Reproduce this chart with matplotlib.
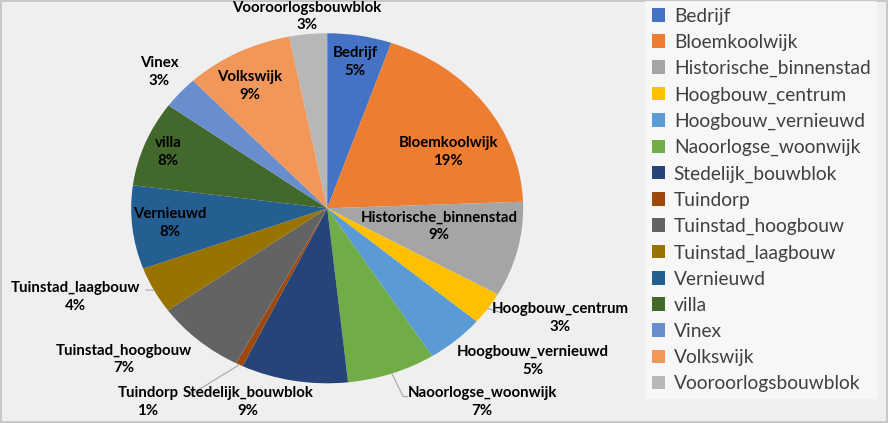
import matplotlib
matplotlib.use("Agg")
import matplotlib.pyplot as plt
import numpy as np

plt.rcParams['font.family'] = ['Lato', 'DejaVu Sans']

# shares of each neighbourhood type (percent)
categories = ["Bedrijf", "Bloemkoolwijk", "Historische_binnenstad", "Hoogbouw_centrum",
              "Hoogbouw_vernieuwd", "Naoorlogse_woonwijk", "Stedelijk_bouwblok", "Tuindorp",
              "Tuinstad_hoogbouw", "Tuinstad_laagbouw", "Vernieuwd", "villa", "Vinex",
              "Volkswijk", "Vooroorlogsbouwblok"]
shares = [5.3, 19.1, 8.8, 3.0, 4.8, 7.3, 8.8, 0.6, 7.4, 4.3, 7.7, 7.9, 3.0, 8.9, 3.1]

colors = ["#4472C4", "#ED7D31", "#A5A5A5", "#FFC000", "#5B9BD5", "#70AD47", "#264478",
          "#9E480E", "#636363", "#997300", "#255E91", "#43682B", "#698ED0", "#F1975A",
          "#B7B7B7"]

# where Excel put each data label (centre of the two-line block, pie radius = 1)
label_pos = {
    "Bedrijf": (0.142, 0.836),
    "Bloemkoolwijk": (0.617, 0.322),
    "Historische_binnenstad": (0.570, -0.101),
    "Hoogbouw_centrum": (1.188, -0.627),
    "Hoogbouw_vernieuwd": (1.050, -0.872),
    "Naoorlogse_woonwijk": (0.790, -1.107),
    "Stedelijk_bouwblok": (-0.404, -1.107),
    "Tuindorp": (-0.914, -1.107),
    "Tuinstad_hoogbouw": (-1.036, -0.866),
    "Tuinstad_laagbouw": (-1.282, -0.507),
    "Vernieuwd": (-0.802, -0.084),
    "villa": (-0.812, 0.322),
    "Vinex": (-0.858, 0.779),
    "Volkswijk": (-0.394, 0.699),
    "Vooroorlogsbouwblok": (-0.104, 1.095),
}
# leader line end points for labels that sit outside the pie
leader_end = {
    "Hoogbouw_centrum": [(0.892, -0.598)],
    "Naoorlogse_woonwijk": [(0.388, -1.076), (0.41, -1.076)],
    "Tuindorp": [(-0.675, -1.05)],
    "Tuinstad_laagbouw": [(-0.925, -0.467)],
}

fig = plt.figure(figsize=(8.88, 4.23), dpi=100)
fig.patch.set_facecolor("#EFEFEF")
fig.patch.set_edgecolor("#C8C8C8")
fig.patch.set_linewidth(1.5)

ax = fig.add_axes([0.0153, 0.0111, 0.7063, 0.993])
wedges, _ = ax.pie(shares, colors=colors, startangle=90, counterclock=False,
                   wedgeprops=dict(linewidth=0))
ax.set_aspect('auto')
ax.set_xlim(-1.6, 1.6)
ax.set_ylim(-1.2, 1.2)

total = sum(shares)
for w, name, val in zip(wedges, categories, shares):
    x, y = label_pos[name]
    ax.text(x, y, f"{name}\n{round(val / total * 100):.0f}%", ha='center', va='center',
            fontsize=10.8, fontweight='bold', color='black', linespacing=1.3)
    if name in leader_end:
        mid = np.deg2rad((w.theta1 + w.theta2) / 2)
        xs = [np.cos(mid)] + [p[0] for p in leader_end[name]]
        ys = [np.sin(mid)] + [p[1] for p in leader_end[name]]
        ax.plot(xs, ys, color="#A6A6A6", lw=0.8)

leg = fig.legend(wedges, categories, loc='upper left', bbox_to_anchor=(645 / 888, 1 - 1 / 423),
                 frameon=True, fontsize=13.8, handlelength=0.7, handleheight=0.7,
                 handletextpad=0.45, labelspacing=0.475, borderaxespad=0, borderpad=0.35)
leg.get_frame().set_facecolor("#FAFAFA")
leg.get_frame().set_edgecolor("none")
leg.get_frame().set_boxstyle("square", pad=0)
for t in leg.get_texts():
    t.set_color("#404040")

plt.savefig("out.png", dpi=100, facecolor=fig.get_facecolor(), edgecolor=fig.get_edgecolor())
